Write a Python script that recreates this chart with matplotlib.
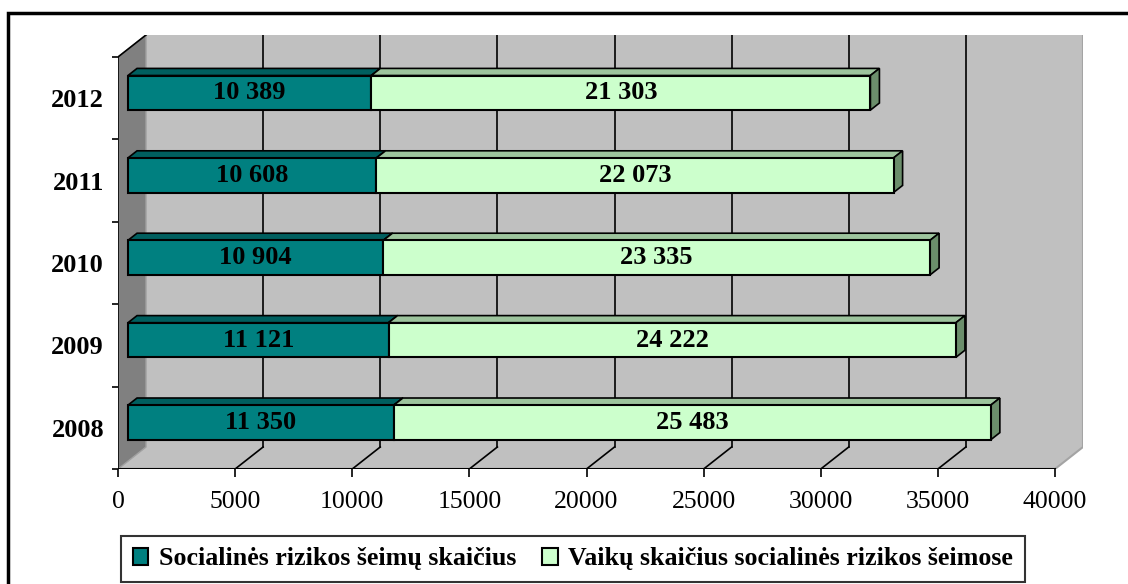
import matplotlib
matplotlib.use('Agg')
import matplotlib.pyplot as plt
from matplotlib.patches import Polygon, Rectangle, Patch

# data
years = ['2008', '2009', '2010', '2011', '2012']
families = [11350, 11121, 10904, 10608, 10389]
children = [25483, 24222, 23335, 22073, 21303]
series_names = ['Socialinės rizikos šeimų skaičius',
                'Vaikų skaičius socialinės rizikos šeimose']
x_ticks = [0, 5000, 10000, 15000, 20000, 25000, 30000, 35000, 40000]

def fmt(v):
    return f'{v:,}'.replace(',', ' ')

W, H = 1128, 584
fig = plt.figure(figsize=(W / 100, H / 100), dpi=100)
plt.rcParams['font.family'] = ['Liberation Serif', 'DejaVu Serif']

# pixel layout of the 3D box (front plane and depth offset)
x0_px, x1_px = 118, 1055
ybot_px, ytop_px = 469, 57
depth_px = (28, 22)
ax = fig.add_axes([x0_px / W, (H - ybot_px) / H,
                   (x1_px + depth_px[0] - x0_px) / W,
                   (ybot_px - ytop_px + depth_px[1]) / H])
xmax = 40000
ux = xmax / (x1_px - x0_px)                 # data units per px
uy = len(years) / (ybot_px - ytop_px)        # category units per px
DX, DY = depth_px[0] * ux, depth_px[1] * uy
ylo, yhi = -0.5, len(years) - 0.5
ax.set_xlim(0, xmax + DX)
ax.set_ylim(ylo, yhi + DY)
for s in ax.spines.values():
    s.set_visible(False)
ax.patch.set_visible(False)

wall = '#c0c0c0'
# back wall, floor, side wall
ax.add_patch(Rectangle((DX, ylo + DY), xmax, yhi - ylo, fc=wall, ec='none', zorder=0))
ax.add_patch(Polygon([(0, ylo), (xmax, ylo), (xmax + DX, ylo + DY), (DX, ylo + DY)],
                     fc=wall, ec='none', zorder=0.5))
ax.plot([xmax, xmax + DX, xmax + DX], [ylo, ylo + DY, yhi + DY], color='#a4a4a4', lw=1.5, zorder=0.7)
ax.add_patch(Polygon([(0, ylo), (0, yhi), (DX, yhi + DY), (DX, ylo + DY)],
                     fc='#808080', ec='#a0a0a0', lw=1, zorder=0.6))
ax.plot([0, DX], [yhi, yhi + DY], color='black', lw=1.2, zorder=1)
ax.plot([0, 0], [ylo, yhi], color='black', lw=1.2, zorder=1)
ax.plot([0, xmax], [ylo, ylo], color='black', lw=1.5, zorder=1)

# gridlines on back wall and floor
for t in x_ticks[1:-1]:
    ax.plot([t + DX, t + DX], [ylo + DY, yhi + DY], color='black', lw=1.2, zorder=1)
    ax.plot([t, t + DX], [ylo, ylo + DY], color='black', lw=1.2, zorder=1)

# bars
f1, f2 = 0.357, 0.68
h = 0.42
ypos = [i - 0.03 for i in range(len(years))]
ox1, oy1 = f1 * DX, f1 * DY
odx, ody = (f2 - f1) * DX, (f2 - f1) * DY
colors = [('#008080', '#005f5f', '#004c4c'), ('#ccffcc', '#9dc49d', '#6b8e6b')]
lefts = [0] * len(years)
for vals, (cf, ct, cs) in zip([families, children], colors):
    for i, v in enumerate(vals):
        x_l = lefts[i] + ox1
        x_r = lefts[i] + v + ox1
        yt = ypos[i] + h / 2 + oy1
        yb = ypos[i] - h / 2 + oy1
        ax.add_patch(Polygon([(x_l, yt), (x_r, yt), (x_r + odx, yt + ody), (x_l + odx, yt + ody)],
                             fc=ct, ec='black', lw=1.2, zorder=2))
        ax.add_patch(Polygon([(x_r, yb), (x_r, yt), (x_r + odx, yt + ody), (x_r + odx, yb + ody)],
                             fc=cs, ec='black', lw=1.2, zorder=2))
    ax.barh([p + oy1 for p in ypos], vals, left=[l + ox1 for l in lefts], height=h,
            color=cf, edgecolor='black', linewidth=1.5, zorder=3)
    for i, v in enumerate(vals):
        ax.text(lefts[i] + v / 2 + ox1, ypos[i] + oy1, fmt(v), ha='center', va='center',
                fontsize=19, fontweight='bold', zorder=4)
    lefts = [l + v for l, v in zip(lefts, vals)]

# axes ticks
ax.set_xticks(x_ticks)
ax.set_xticklabels([str(t) for t in x_ticks], fontsize=18.5)
ax.tick_params(axis='x', length=6, width=1.2, pad=10)
ax.set_yticks(range(len(years)))
ax.set_yticklabels(years, fontsize=19, fontweight='bold')
ax.tick_params(axis='y', length=0, pad=10)
ax.set_yticks([i - 0.5 for i in range(len(years) + 1)], minor=True)
ax.tick_params(axis='y', which='minor', length=4, width=1.2)

# legend
handles = [Patch(fc=colors[0][0], ec='black', lw=1.5, label=series_names[0]),
           Patch(fc=colors[1][0], ec='black', lw=1.5, label=series_names[1])]
leg = fig.legend(handles=handles, loc='center', ncol=2,
                 bbox_to_anchor=(573 / W, 1 - 559 / H),
                 prop={'family': 'Liberation Serif', 'weight': 'bold', 'size': 18.7},
                 frameon=True, fancybox=False, edgecolor='black',
                 handlelength=0.6, handleheight=0.6, handletextpad=0.4,
                 columnspacing=1.0, borderpad=0.45)
leg.get_frame().set_linewidth(1.5)

# outer frame
fig.patches.append(Rectangle((8 / W, -0.1), 1.2, 1 - 13 / H + 0.1, transform=fig.transFigure,
                             fill=False, ec='black', lw=2.5))

fig.savefig('out.png', dpi=100)
